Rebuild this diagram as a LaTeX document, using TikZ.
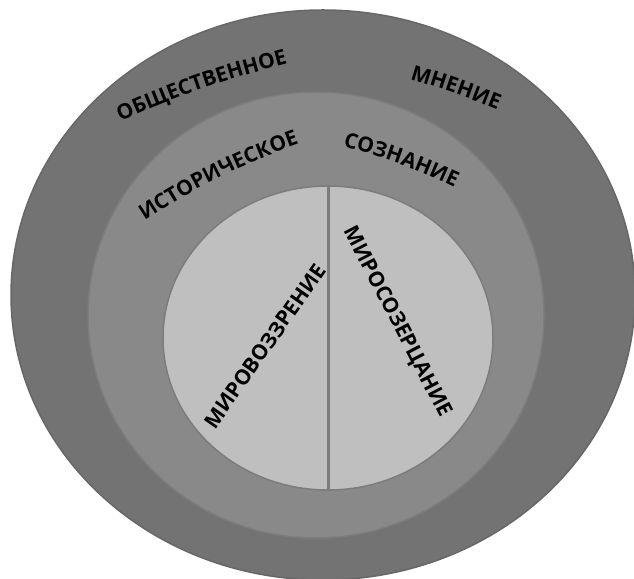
\documentclass[tikz,border=0pt]{standalone}
\usepackage{fontspec}
\setmainfont{Open Sans}
\usetikzlibrary{shapes.geometric,decorations.text}
\definecolor{outerg}{HTML}{737373}
\definecolor{midg}{HTML}{898989}
\definecolor{innerg}{HTML}{BFBFBF}
\definecolor{edgeg}{HTML}{7C7C7C}
\newcommand\lblfont{\fontsize{21}{21}\selectfont\bfseries}

\begin{document}
\begin{tikzpicture}[x=1pt,y=1pt]
    \tikzstyle{ring}=[ellipse,draw=edgeg,line width=1.5pt,inner sep=0pt]
    \tikzstyle{lbl}=[inner sep=0pt,font=\lblfont]
    \useasboundingbox (0,0) rectangle (634,578);
    \node[ring,fill=outerg,draw=outerg!90!black,minimum width=624pt,minimum height=570pt] (outer) at (323,283) {};
    \node[ring,fill=midg,minimum width=456pt,minimum height=446pt] (mid) at (316,263) {};
    \node[ring,fill=innerg,minimum width=330pt,minimum height=304pt] (inner) at (328,240) {};
    \draw[edgeg,line width=3pt] (inner.north) -- (inner.south);
    % words on the rings
    \path[decorate,decoration={text along path,text align=center,text={|\lblfont|ОБЩЕСТВЕННОЕ}}] (108,451) to[bend left=5] (301,518);
    \path[decorate,decoration={text along path,text align=center,text={|\lblfont|МНЕНИЕ}}] (399,502) to[bend left=3] (508,464);
    \path[decorate,decoration={text along path,text align=center,text={|\lblfont|ИСТОРИЧЕСКОЕ}}] (135,351) to[bend left=7] (310,438);
    \path[decorate,decoration={text along path,text align=center,text={|\lblfont|СОЗНАНИЕ}}] (334,434) to[bend left=5] (463,387);
    % the two halves
    \node[lbl,rotate=55] (view) at (265,232) {МИРОВОЗЗРЕНИЕ};
    \node[lbl,rotate=-62.6] (contemp) at (397,256) {МИРОСОЗЕРЦАНИЕ};
\end{tikzpicture}
\end{document}
